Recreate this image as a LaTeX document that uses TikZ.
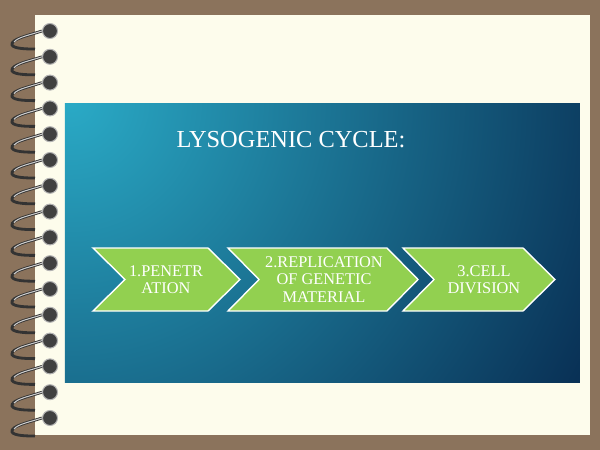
\documentclass[tikz,border=0pt]{standalone}
\usepackage{fontspec}
\setmainfont{Liberation Serif}
\begin{document}
\begin{tikzpicture}[x=0.02cm,y=-0.02cm,
 chev/.style={fill=chevgreen,draw=white,line width=0.8pt},
 lab/.style={text=white,font=\fontsize{9.3}{10}\selectfont,align=center},
 hole/.style={circle,fill=black!75,draw=gray!60,line width=0.6pt,minimum size=0.3cm,inner sep=0},
 wire/.style={line width=1.6pt,draw=black!80}]
\definecolor{chevgreen}{HTML}{92D050}
\definecolor{bg}{HTML}{8B735C}
\definecolor{page}{HTML}{FDFCEC}
\definecolor{tl}{HTML}{2AAAC6}
\definecolor{br}{HTML}{052248}
\fill[bg] (0,0) rectangle (600,450);
\fill[page] (35,15) rectangle (590,435);
\foreach \i in {0,...,15}{
 \pgfmathsetmacro\yy{31+25.8*\i}
 \node[hole] (h\i) at (50,\yy) {};
 \coordinate (w\i) at (12,\yy+14);
 \coordinate (e\i) at (35,\yy+18);
 \draw[wire] (h\i.west) .. controls (30,\yy+4) and (10,\yy+8) .. (w\i) .. controls (14,\yy+18) and (28,\yy+18) .. (e\i);
 \draw[line width=0.6pt,draw=gray!40] (h\i.west) .. controls (30,\yy+4) and (18,\yy+6) .. (14,\yy+11);
}
\begin{scope}
\clip (65,103) rectangle (580,382);
\shade[inner color=tl,outer color=br] (70,100) circle[radius=13cm];
\end{scope}
\node[text=white,font=\fontsize{13.9}{15}\selectfont] (t) at (291,140) {LYSOGENIC CYCLE:};
\draw[chev] (93,248)--(208,248)--(240,279.5)--(208,311)--(93,311)--(125,279.5)--cycle;
\draw[chev] (228,248)--(387,248)--(418,279.5)--(387,311)--(228,311)--(259,279.5)--cycle;
\draw[chev] (403,248)--(523,248)--(555,279.5)--(523,311)--(403,311)--(434,279.5)--cycle;
\node[lab] (c1) at (166,279.5) {1.PENETR\\ATION};
\node[lab] (c2) at (324,279.5) {2.REPLICATION\\OF GENETIC\\MATERIAL};
\node[lab] (c3) at (484,279.5) {3.CELL\\DIVISION};
\end{tikzpicture}
\end{document}
